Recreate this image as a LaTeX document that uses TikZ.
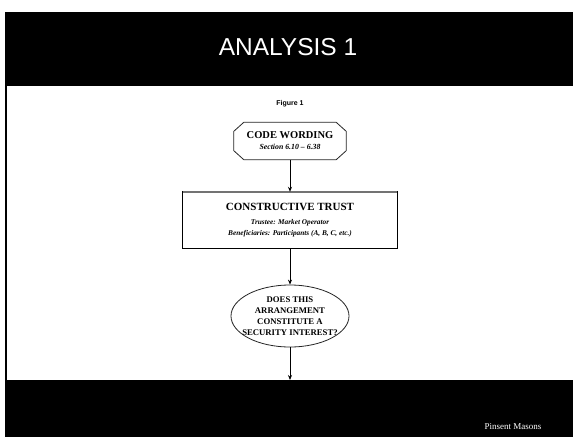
\documentclass[tikz,border=0pt]{standalone}
\usepackage{fontspec}
\setmainfont{Liberation Serif}
\newfontfamily\hdfont{Liberation Sans}
\usetikzlibrary{shapes.geometric,arrows.meta}
\tikzset{
  boxline/.style={draw=black!85, line width=0.8pt},
  link/.style={draw=black, line width=0.8pt, -{Stealth[length=5pt,width=4pt]}},
  band/.style={fill=black, draw=none},
}
\newcommand\qline[1]{\makebox[60pt][c]{#1}}
\begin{document}
\begin{tikzpicture}[x=1pt,y=-1pt]
\useasboundingbox[fill=white] (0,0) rectangle (573,437);
% header and footer bands
\fill[band] (6,12) rectangle (573,86);
\fill[band] (6,380) rectangle (573,437);
\draw[black, line width=1.5pt] (6,12) -- (6,437);
\node[text=white, font=\hdfont\fontsize{24.5}{28}\selectfont] (title) at (288,47) {ANALYSIS 1};
\node[font=\hdfont\bfseries\fontsize{7}{8}\selectfont] (fig) at (290,104) {Figure 1};
% flow nodes
\node[rectangle, minimum width=112pt, minimum height=37pt, inner sep=2pt, align=center] (code) at (290,141)
  {\bfseries\fontsize{10.5}{13}\selectfont CODE WORDING\\[-1pt]
   \bfseries\itshape\fontsize{7.8}{9}\selectfont Section 6.10 -- 6.38};
\draw[boxline] ([xshift=10pt]code.north west) -- ([xshift=-10pt]code.north east)
  -- ([yshift=-9pt]code.north east) -- ([yshift=9pt]code.south east)
  -- ([xshift=-10pt]code.south east) -- ([xshift=10pt]code.south west)
  -- ([yshift=9pt]code.south west) -- ([yshift=-9pt]code.north west) -- cycle;
\node[rectangle, minimum width=214pt, minimum height=56pt, inner sep=2pt, align=center] (trust) at (290,220)
  {\bfseries\fontsize{11}{13}\selectfont CONSTRUCTIVE TRUST\\[2pt]
   \bfseries\itshape\fontsize{7.3}{10}\selectfont Trustee: Market Operator\\[-1pt]
   \bfseries\itshape\fontsize{7.3}{10}\selectfont Beneficiaries: Participants (A, B, C, etc.)};
\draw[black, line width=0.7pt] (trust.north west) rectangle (trust.south east);
\draw[black!55, line width=1.4pt] (trust.north west) -- (trust.north east);
\node[boxline, ellipse, minimum width=118pt, minimum height=62pt, inner xsep=0pt, inner ysep=-5pt, align=center,
      font=\bfseries\fontsize{8.7}{11}\selectfont] (q) at (290,316)
  {\qline{DOES THIS}\\\qline{ARRANGEMENT}\\\qline{CONSTITUTE A}\\\qline{SECURITY INTEREST?}};
\coordinate (end) at (290,380);
% connectors
\draw[link] (code.south) -- (trust.north);
\draw[link] (trust.south) -- (q.north);
\draw[link] (q.south) -- (end);
\node[text=white, font=\fontsize{9}{10}\selectfont] (brand) at (513,427) {Pinsent Masons};
\end{tikzpicture}
\end{document}
